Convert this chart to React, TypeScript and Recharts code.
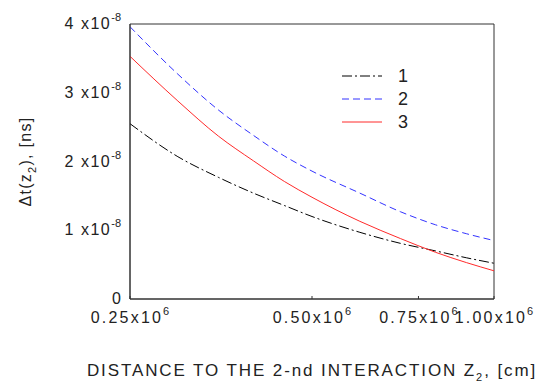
import { LineChart, Line, XAxis, YAxis, Legend, ReferenceArea } from 'recharts';

// distance in units of 1e6 cm, delay in units of 1e-8 ns
const distances = [0.25, 0.3, 0.35, 0.4, 0.45, 0.5, 0.6, 0.7, 0.8, 0.9, 1.0];
const curve1 = [2.55, 2.07, 1.77, 1.54, 1.36, 1.2, 0.97, 0.81, 0.7, 0.6, 0.52];
const curve2 = [3.96, 3.27, 2.75, 2.38, 2.08, 1.86, 1.54, 1.27, 1.08, 0.95, 0.85];
const curve3 = [3.53, 2.88, 2.37, 2.01, 1.71, 1.48, 1.13, 0.88, 0.68, 0.53, 0.41];
const xTicks = [0.25, 0.5, 0.75, 1.0];
const yTicks = [0, 1, 2, 3, 4];

const seriesConfig = [
    { key: 's1', label: '1', color: '#000000', dash: '10 3 2 3' },
    { key: 's2', label: '2', color: '#3333ff', dash: '7 4' },
    { key: 's3', label: '3', color: '#ff2a2a', dash: undefined },
];

const data = distances.map((d, i) => ({ d, s1: curve1[i], s2: curve2[i], s3: curve3[i] }));

const FONT = '"Liberation Sans", Arial, sans-serif';

function XTick({ x, y, payload }: any) {
    return (
        <g>
            <line x1={x} x2={x} y1={y - 3} y2={y} stroke="#333" />
            <text x={x} y={y + 24} textAnchor="middle" fontSize={16} fontFamily={FONT} fill="#222">
                <tspan letterSpacing={2.2}>{payload.value.toFixed(2)}x10</tspan>
                <tspan dy={-8} fontSize={11}>6</tspan>
            </text>
        </g>
    );
}

function YTick({ x, y, payload }: any) {
    const v = payload.value;
    return (
        <text x={x - 9} y={y + 5} textAnchor="end" fontSize={16} fontFamily={FONT} fill="#222">
            <tspan letterSpacing={v === 0 ? 0 : 1.5}>{v === 0 ? '0' : `${v} x10`}</tspan>
            {v !== 0 && <tspan dy={-8} fontSize={11}>-8</tspan>}
        </text>
    );
}

function LegendBox() {
    return (
        <svg width={90} height={72}>
            {seriesConfig.map((s, i) => (
                <g key={s.key}>
                    <line x1={0} x2={40} y1={14 + i * 23} y2={14 + i * 23} stroke={s.color} strokeDasharray={s.dash} />
                    <text x={56} y={20 + i * 23} fontSize={18} fontFamily={FONT} fill="#222">{s.label}</text>
                </g>
            ))}
        </svg>
    );
}

export default function App() {
    return (
        <div style={{ position: 'absolute', left: 0, top: 0, background: '#fff' }}>
            <LineChart width={538} height={390} data={data} margin={{ top: 24, right: 44, left: 0, bottom: 0 }}>
                <XAxis
                    dataKey="d"
                    type="number"
                    scale="log"
                    domain={[0.25, 1]}
                    ticks={xTicks}
                    interval={0}
                    allowDataOverflow
                    height={91}
                    tickSize={0}
                    tickMargin={0}
                    tick={<XTick />}
                    axisLine={{ stroke: '#333' }}
                    label={{
                        content: ({ viewBox }: any) => (
                            <text x={viewBox.x + viewBox.width / 2} y={viewBox.y + 77} textAnchor="middle" fontSize={17} fontFamily={FONT} fill="#222" letterSpacing={1.9}>
                                DISTANCE TO THE 2-nd INTERACTION Z
                                <tspan dy={5} fontSize={11}>2</tspan>
                                <tspan dy={-5}>, [cm]</tspan>
                            </text>
                        ),
                    }}
                />
                <YAxis
                    type="number"
                    domain={[0, 4]}
                    ticks={yTicks}
                    interval={0}
                    width={130}
                    tickSize={0}
                    tickMargin={0}
                    tickLine={false}
                    tick={<YTick />}
                    axisLine={{ stroke: '#333' }}
                    label={{
                        content: ({ viewBox }: any) => {
                            const cx = 31;
                            const cy = viewBox.y + viewBox.height / 2;
                            return (
                                <text x={cx} y={cy} textAnchor="middle" fontSize={16} fontFamily={FONT} fill="#222" letterSpacing={1.3} transform={`rotate(-90, ${cx}, ${cy})`}>
                                    Δt(z
                                    <tspan dy={5} fontSize={11}>2</tspan>
                                    <tspan dy={-5}>), [ns]</tspan>
                                </text>
                            );
                        },
                    }}
                />
                <ReferenceArea x1={0.25} x2={1} y1={0} y2={4} fill="none" stroke="#333" strokeWidth={1} />
                <Legend
                    layout="vertical"
                    align="center"
                    verticalAlign="middle"
                    content={() => <LegendBox />}
                    wrapperStyle={{ left: 342, top: 62, width: 90, height: 72 }}
                />
                {seriesConfig.map((s) => (
                    <Line
                        key={s.key}
                        dataKey={s.key}
                        name={s.label}
                        type="monotone"
                        stroke={s.color}
                        strokeWidth={1}
                        strokeDasharray={s.dash}
                        dot={false}
                        isAnimationActive={false}
                    />
                ))}
            </LineChart>
        </div>
    );
}
